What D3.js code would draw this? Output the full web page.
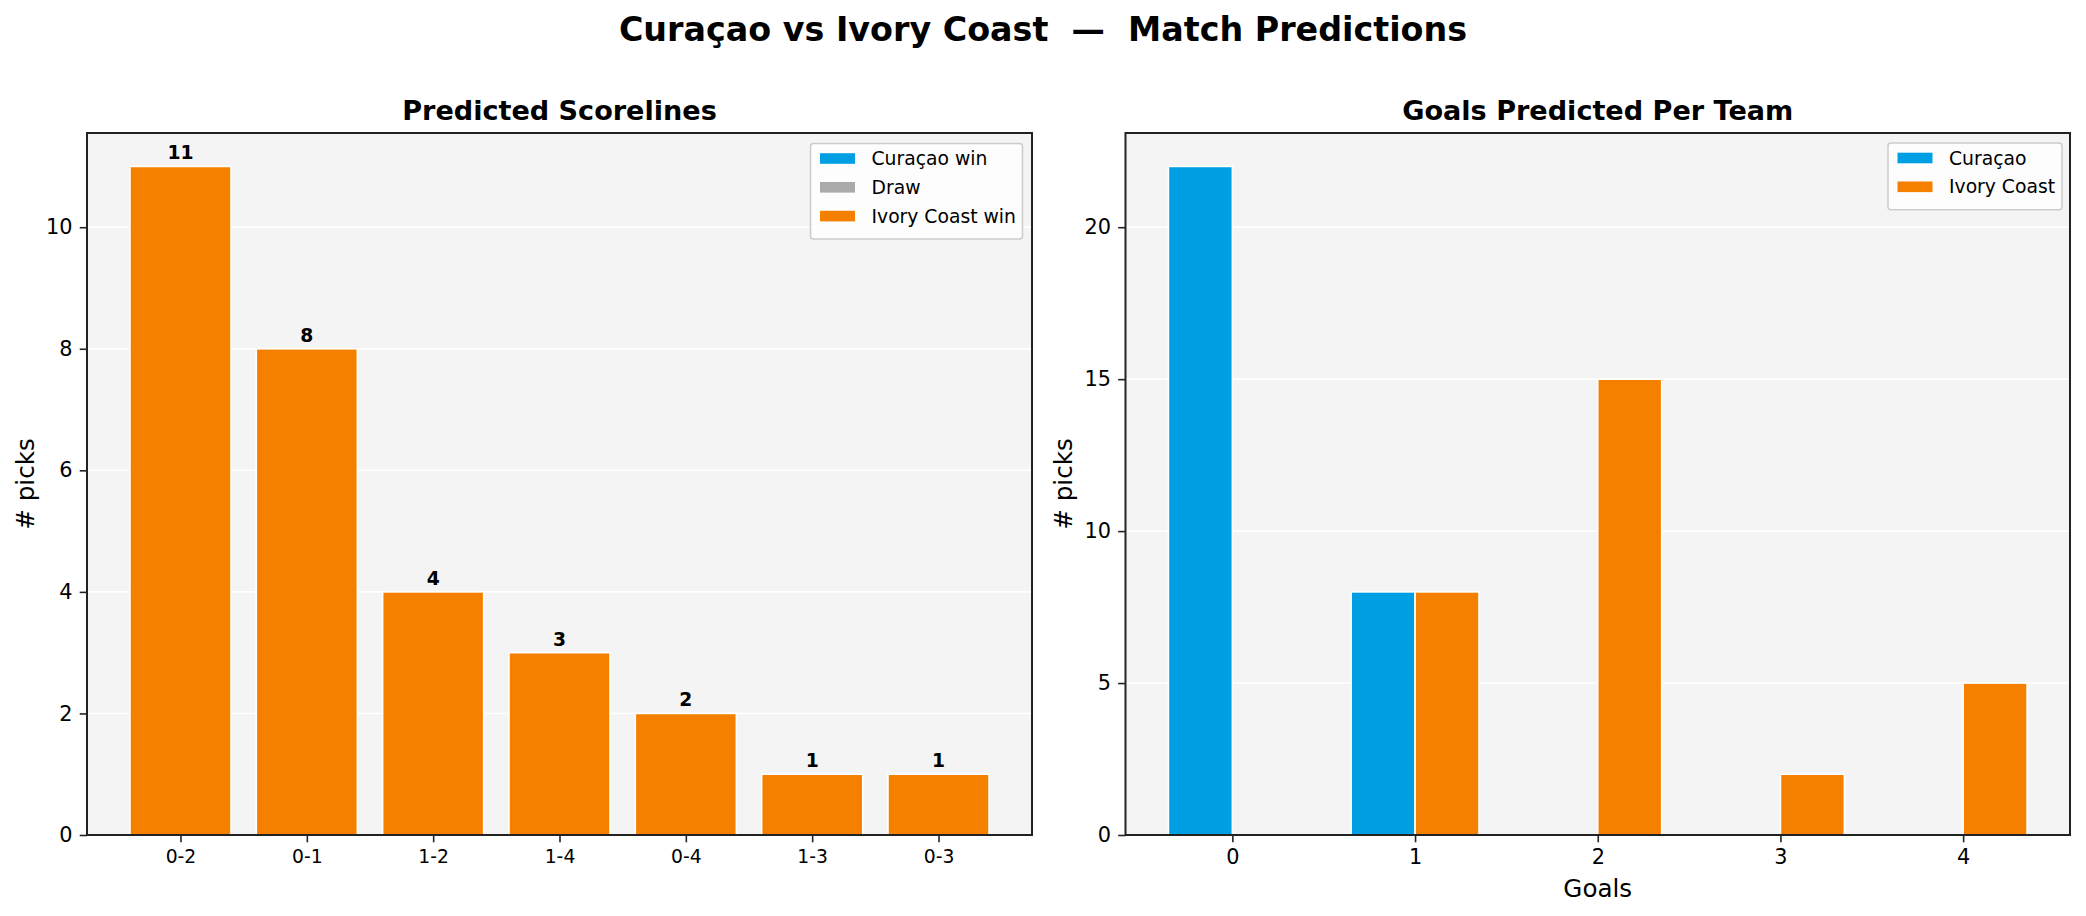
<!DOCTYPE html>
<html>
<head>
<meta charset="utf-8">
<script src="https://cdn.jsdelivr.net/npm/d3@7"></script>
<style>
  html, body { margin: 0; padding: 0; background: #ffffff; }
  svg { display: block; font-family: "DejaVu Sans", sans-serif; }
</style>
</head>
<body>
<svg id="chart" width="2086" height="916"></svg>
<script>
// ---------------- DATA ----------------
const scorelines = ["0-2", "0-1", "1-2", "1-4", "0-4", "1-3", "0-3"];
const scorelinePicks = [11, 8, 4, 3, 2, 1, 1];
const scorelineOutcome = ["Ivory Coast win", "Ivory Coast win", "Ivory Coast win", "Ivory Coast win", "Ivory Coast win", "Ivory Coast win", "Ivory Coast win"];
const outcomeLabels = ["Curaçao win", "Draw", "Ivory Coast win"];

const goalValues = [0, 1, 2, 3, 4];
const curacaoGoals = [22, 8, 0, 0, 0];
const ivoryGoals = [0, 8, 15, 2, 5];
const teamLabels = ["Curaçao", "Ivory Coast"];

const leftYTicks = [0, 2, 4, 6, 8, 10];
const rightYTicks = [0, 5, 10, 15, 20];

const mainTitle = "Curaçao vs Ivory Coast  —  Match Predictions";
const leftTitle = "Predicted Scorelines";
const rightTitle = "Goals Predicted Per Team";

// ---------------- STYLE ----------------
const C_BLUE = "#009fe3", C_GRAY = "#aaaaaa", C_ORANGE = "#f58000";
const outcomeColor = {"Curaçao win": C_BLUE, "Draw": C_GRAY, "Ivory Coast win": C_ORANGE};
const BG = "#f4f4f4", SPINE = "#222222";
const PT = 150 / 72;

const svg = d3.select("#chart");

svg.append("text")
  .attr("x", 1043).attr("y", 41)
  .attr("text-anchor", "middle")
  .attr("font-weight", "bold")
  .attr("font-size", 16 * PT)
  .style("white-space", "pre")
  .attr("xml:space", "preserve")
  .text(mainTitle);

function panel(box, title) {
  const g = svg.append("g");
  g.append("rect").attr("x", box.x0).attr("y", box.y0)
    .attr("width", box.x1 - box.x0).attr("height", box.y1 - box.y0)
    .attr("fill", BG);
  g.append("text")
    .attr("x", (box.x0 + box.x1) / 2).attr("y", box.y0 - 13.5)
    .attr("text-anchor", "middle").attr("font-weight", "bold")
    .attr("font-size", 13 * PT).text(title);
  return g;
}

function styleAxis(sel, fs) {
  sel.select(".domain").remove();
  sel.selectAll(".tick line").attr("stroke", SPINE).attr("stroke-width", 1.6);
  sel.selectAll(".tick text").attr("fill", "#000").attr("font-size", fs)
    .attr("font-family", "DejaVu Sans, sans-serif");
}

function spines(g, box) {
  g.append("rect").attr("x", box.x0).attr("y", box.y0)
    .attr("width", box.x1 - box.x0).attr("height", box.y1 - box.y0)
    .attr("fill", "none").attr("stroke", SPINE).attr("stroke-width", 2);
}

function legend(g, x0, y0, w, items) {
  const rowH = 28.8;
  const h = 17 + rowH * (items.length - 1) + 17 + 4;
  g.append("rect").attr("x", x0).attr("y", y0).attr("width", w).attr("height", h)
    .attr("rx", 3).attr("ry", 3)
    .attr("fill", "#ffffff").attr("fill-opacity", 0.8)
    .attr("stroke", "#cccccc").attr("stroke-width", 1.5);
  items.forEach((it, i) => {
    const cy = y0 + 15 + rowH * i;
    g.append("rect").attr("x", x0 + 9.5).attr("y", cy - 5.3)
      .attr("width", 35).attr("height", 10.6).attr("fill", it.color);
    g.append("text").attr("x", x0 + 61).attr("y", cy + 6.5)
      .attr("font-size", 9 * PT).attr("fill", "#000").text(it.label);
  });
}

// ---------------- LEFT PANEL ----------------
{
  const box = {x0: 87, x1: 1032, y0: 133, y1: 835};
  const g = panel(box, leftTitle);
  const n = scorelines.length;
  const x = d3.scaleLinear().domain([-0.74, n - 1 + 0.74]).range([box.x0, box.x1]);
  const y = d3.scaleLinear().domain([0, 11 * 1.05]).range([box.y1, box.y0]);

  g.append("g").selectAll("line").data(leftYTicks).join("line")
    .attr("x1", box.x0).attr("x2", box.x1)
    .attr("y1", d => y(d)).attr("y2", d => y(d))
    .attr("stroke", "#ffffff").attr("stroke-width", 1.6);

  const bw = 0.8;
  g.append("g").selectAll("rect").data(scorelinePicks).join("rect")
    .attr("x", (d, i) => x(i - bw / 2))
    .attr("width", (d, i) => x(i + bw / 2) - x(i - bw / 2))
    .attr("y", d => y(d))
    .attr("height", d => y(0) - y(d))
    .attr("fill", (d, i) => outcomeColor[scorelineOutcome[i]])
    .attr("stroke", "#ffffff").attr("stroke-width", 1.6);

  g.append("g").selectAll("text").data(scorelinePicks).join("text")
    .attr("x", (d, i) => x(i)).attr("y", d => y(d) - 7)
    .attr("text-anchor", "middle").attr("font-weight", "bold")
    .attr("font-size", 9 * PT).text(d => d);

  const xa = g.append("g").attr("transform", `translate(0,${box.y1})`)
    .call(d3.axisBottom(x).tickValues(d3.range(n)).tickFormat(i => scorelines[i])
      .tickSize(7.3).tickPadding(7.3));
  styleAxis(xa, 9 * PT);
  const ya = g.append("g").attr("transform", `translate(${box.x0},0)`)
    .call(d3.axisLeft(y).tickValues(leftYTicks).tickFormat(d3.format("d"))
      .tickSize(7.3).tickPadding(7.3));
  styleAxis(ya, 10 * PT);

  g.append("text").attr("transform", `translate(25,${(box.y0 + box.y1) / 2}) rotate(-90)`)
    .attr("text-anchor", "middle").attr("dominant-baseline", "central")
    .attr("font-size", 11.8 * PT).text("# picks");

  spines(g, box);
  legend(g, 810.5, 143.5, 212, outcomeLabels.map(l => ({label: l, color: outcomeColor[l]})));
}

// ---------------- RIGHT PANEL ----------------
{
  const box = {x0: 1125.5, x1: 2070, y0: 133, y1: 835};
  const g = panel(box, rightTitle);
  const x = d3.scaleLinear().domain([-0.585, 4.585]).range([box.x0, box.x1]);
  const y = d3.scaleLinear().domain([0, 22 * 1.05]).range([box.y1, box.y0]);

  g.append("g").selectAll("line").data(rightYTicks).join("line")
    .attr("x1", box.x0).attr("x2", box.x1)
    .attr("y1", d => y(d)).attr("y2", d => y(d))
    .attr("stroke", "#ffffff").attr("stroke-width", 1.6);

  const bw = 0.35;
  const series = [
    {vals: curacaoGoals, off: -bw / 2, color: C_BLUE},
    {vals: ivoryGoals, off: bw / 2, color: C_ORANGE}
  ];
  series.forEach(s => {
    g.append("g").selectAll("rect").data(goalValues.filter((v, i) => s.vals[i] > 0)).join("rect")
      .attr("x", v => x(v + s.off - bw / 2))
      .attr("width", v => x(v + s.off + bw / 2) - x(v + s.off - bw / 2))
      .attr("y", v => y(s.vals[goalValues.indexOf(v)]))
      .attr("height", v => y(0) - y(s.vals[goalValues.indexOf(v)]))
      .attr("fill", s.color)
      .attr("stroke", "#ffffff").attr("stroke-width", 1.6);
  });

  const xa = g.append("g").attr("transform", `translate(0,${box.y1})`)
    .call(d3.axisBottom(x).tickValues(goalValues).tickFormat(d3.format("d"))
      .tickSize(7.3).tickPadding(7.3));
  styleAxis(xa, 10 * PT);
  const ya = g.append("g").attr("transform", `translate(${box.x0},0)`)
    .call(d3.axisLeft(y).tickValues(rightYTicks).tickFormat(d3.format("d"))
      .tickSize(7.3).tickPadding(7.3));
  styleAxis(ya, 10 * PT);

  g.append("text").attr("transform", `translate(1063,${(box.y0 + box.y1) / 2}) rotate(-90)`)
    .attr("text-anchor", "middle").attr("dominant-baseline", "central")
    .attr("font-size", 11.8 * PT).text("# picks");
  g.append("text").attr("x", (box.x0 + box.x1) / 2).attr("y", 897)
    .attr("text-anchor", "middle").attr("font-size", 11.8 * PT).text("Goals");

  spines(g, box);
  legend(g, 1888, 143, 174, teamLabels.map((l, i) => ({label: l, color: i === 0 ? C_BLUE : C_ORANGE})));
}
</script>
</body>
</html>
